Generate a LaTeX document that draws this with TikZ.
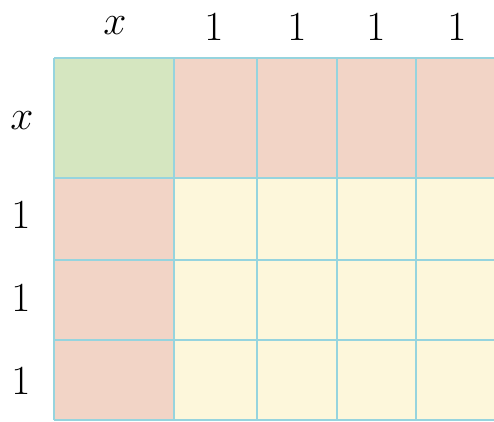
\documentclass[tikz,border=0pt]{standalone}
\usepackage{tikz}
\definecolor{boxgreen}{RGB}{213,230,192}
\definecolor{boxred}{RGB}{242,212,198}
\definecolor{boxyellow}{RGB}{253,247,219}
\definecolor{gridblue}{RGB}{150,212,222}
\begin{document}
\begin{tikzpicture}[
            x=0.5pt, y=-0.5pt,
            lbl/.style={font=\fontsize{20}{24}\selectfont, inner sep=0pt},
            gridline/.style={draw=gridblue, line width=1pt}
            ]
            \useasboundingbox (0,0) rectangle (494,422);
            \begin{scope}
            \clip (0,0) rectangle (494,422);
            \fill[boxgreen] (54,58) rectangle (174,178);
            \fill[boxred] (174,58) rectangle (500,178);
            \fill[boxred] (54,178) rectangle (174,420);
            \fill[boxyellow] (174,178) rectangle (500,420);
            % grid
            \draw[gridline] (54,58) -- (500,58);
            \draw[gridline] (54,178) -- (500,178);
            \draw[gridline] (54,260) -- (500,260);
            \draw[gridline] (54,340) -- (500,340);
            \draw[gridline] (54,420) -- (500,420);
            \draw[gridline] (54,58) -- (54,420);
            \draw[gridline] (174,58) -- (174,420);
            \draw[gridline] (257,58) -- (257,420);
            \draw[gridline] (337,58) -- (337,420);
            \draw[gridline] (416,58) -- (416,420);
            \end{scope}
            % labels
            \node[lbl] (tx) at (115,26) {$x$};
            \node[lbl] (t1) at (214,27) {$1$};
            \node[lbl] (t2) at (297,27) {$1$};
            \node[lbl] (t3) at (376,27) {$1$};
            \node[lbl] (t4) at (457,27) {$1$};
            \node[lbl] (lx) at (22,121) {$x$};
            \node[lbl] (l1) at (21,215) {$1$};
            \node[lbl] (l2) at (21,298) {$1$};
            \node[lbl] (l3) at (21,381) {$1$};
            \end{tikzpicture}
\end{document}
